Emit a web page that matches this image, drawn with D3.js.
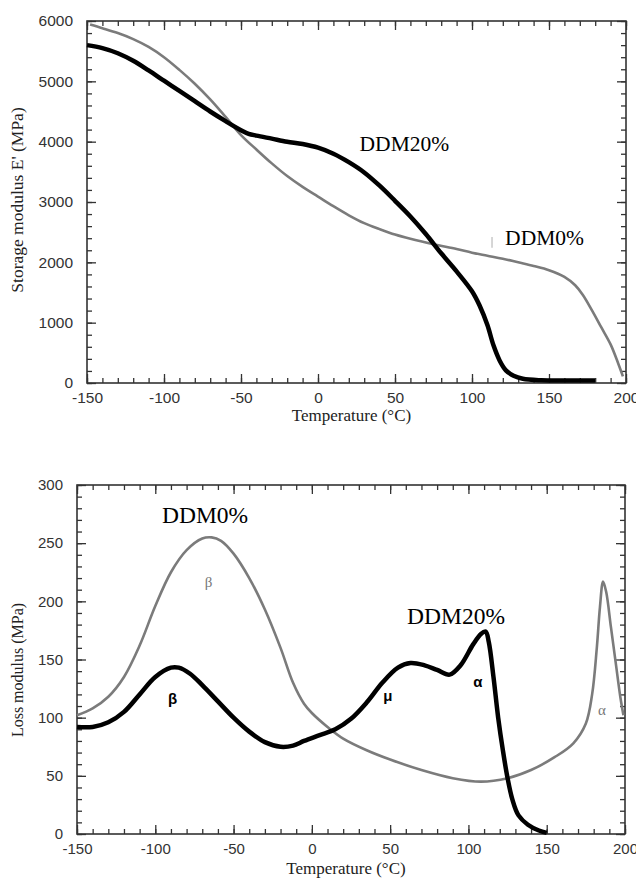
<!doctype html>
<html lang="en">
<head>
  <meta charset="utf-8">
  <title>DMA curves</title>
  <script src="https://d3js.org/d3.v7.min.js"></script>
  <style>
    body { margin: 0; background: #fff; }
    .tick text { font-family: "Liberation Sans", Arial, sans-serif; fill: #333; }
    .tick line { stroke: #333; stroke-width: 1.3; }
  </style>
</head>
<body>
  <div id="chart"></div>
  <script type="text/javascript">

    var width = 636, height = 878;

    // ---- data ----
    // storage modulus, DDM0% (grey)
    var e0Temp = [-148, -140, -130, -120, -110, -100, -90, -80, -70, -60, -50, -40, -30, -20, -10, 0, 10, 20, 30, 40, 50, 60, 75, 90, 100, 110, 120, 130, 140, 150, 160, 167, 172, 178, 184, 190, 195, 198];
    var e0Val  = [5940, 5880, 5800, 5700, 5570, 5400, 5190, 4960, 4700, 4410, 4110, 3870, 3640, 3430, 3250, 3090, 2930, 2780, 2650, 2550, 2460, 2390, 2300, 2220, 2160, 2110, 2060, 2000, 1940, 1870, 1760, 1620, 1460, 1200, 920, 640, 320, 110];
    // storage modulus, DDM20% (black)
    var e20Temp = [-150, -140, -130, -120, -110, -100, -90, -80, -70, -60, -50, -45, -40, -30, -20, -10, 0, 10, 20, 30, 40, 50, 60, 70, 80, 90, 100, 105, 110, 114, 118, 122, 127, 133, 145, 160, 180];
    var e20Val  = [5600, 5550, 5465, 5340, 5180, 5010, 4840, 4670, 4500, 4340, 4190, 4130, 4100, 4050, 4000, 3960, 3900, 3800, 3660, 3490, 3270, 3020, 2760, 2470, 2150, 1850, 1520, 1280, 960, 620, 370, 210, 120, 70, 45, 40, 40];
    // loss modulus, DDM0% (grey)
    var l0Temp = [-150, -140, -130, -120, -110, -100, -90, -80, -70, -64, -58, -50, -40, -30, -20, -12, -5, 0, 10, 20, 35, 50, 70, 90, 108, 125, 140, 155, 167, 175, 179, 182, 184, 186, 188, 191, 194, 197, 199];
    var l0Val  = [102, 108, 118, 135, 162, 196, 225, 244, 254, 255, 252, 241, 220, 193, 160, 130, 112, 104, 92, 82, 72, 64, 55, 48, 45, 48, 55, 66, 78, 95, 120, 160, 195, 217, 208, 178, 148, 118, 102];
    // loss modulus, DDM20% (black)
    var l20Temp = [-150, -140, -130, -120, -110, -100, -90, -85, -78, -70, -60, -50, -40, -30, -20, -12, -5, 5, 15, 25, 35, 45, 55, 63, 72, 80, 88, 95, 103, 108, 111, 113, 116, 119, 122, 125, 128, 132, 138, 145, 150];
    var l20Val  = [92, 92, 96, 105, 120, 135, 143, 143, 138, 128, 114, 100, 88, 79, 75, 76, 80, 85, 90, 99, 113, 130, 143, 147, 145, 141, 137, 145, 163, 172, 174, 165, 135, 100, 72, 48, 30, 16, 8, 3, 1];

    var xTicks = [-150, -100, -50, 0, 50, 100, 150, 200];
    var eTicks = [0, 1000, 2000, 3000, 4000, 5000, 6000];
    var lTicks = [0, 50, 100, 150, 200, 250, 300];

    var svg = d3.select('#chart')
                .append('svg')
                .attr('width', width)
                .attr('height', height);

    function pairs(t, v) {
      return t.map(function(d, i) { return [d, v[i]]; });
    }

    function panel(o) {
      var x = d3.scaleLinear().domain([-150, 200]).range([o.left, o.right]);
      var y = d3.scaleLinear().domain(o.yDomain).range([o.bottom, o.top]);
      var g = svg.append('g');

      var xMinor = d3.range(-150, 201, 10);
      var yMinor = d3.range(o.yDomain[0], o.yDomain[1] + 1, o.yMinorStep);

      // minor ticks on all four sides
      g.append('g').attr('transform', 'translate(0,' + o.bottom + ')')
        .call(d3.axisBottom(x).tickValues(xMinor).tickSize(-5).tickFormat(''));
      g.append('g').attr('transform', 'translate(0,' + o.top + ')')
        .call(d3.axisTop(x).tickValues(xMinor).tickSize(-5).tickFormat(''));
      g.append('g').attr('transform', 'translate(' + o.left + ',0)')
        .call(d3.axisLeft(y).tickValues(yMinor).tickSize(-5).tickFormat(''));
      g.append('g').attr('transform', 'translate(' + o.right + ',0)')
        .call(d3.axisRight(y).tickValues(yMinor).tickSize(-5).tickFormat(''));

      // major ticks + labels
      g.append('g').attr('transform', 'translate(0,' + o.bottom + ')')
        .call(d3.axisBottom(x).tickValues(xTicks).tickSize(-9).tickPadding(9)
              .tickFormat(function(d) { return String(d); }))
        .selectAll('text').style('font-size', o.tickFont + 'px');
      g.append('g').attr('transform', 'translate(0,' + o.top + ')')
        .call(d3.axisTop(x).tickValues(xTicks).tickSize(-9).tickFormat(''));
      g.append('g').attr('transform', 'translate(' + o.left + ',0)')
        .call(d3.axisLeft(y).tickValues(o.yTicks).tickSize(-9).tickPadding(14)
              .tickFormat(function(d) { return String(d); }))
        .selectAll('text').style('font-size', o.tickFont + 'px');
      g.append('g').attr('transform', 'translate(' + o.right + ',0)')
        .call(d3.axisRight(y).tickValues(o.yTicks).tickSize(-9).tickFormat(''));

      g.selectAll('.domain').remove();

      g.append('rect')
        .attr('x', o.left).attr('y', o.top)
        .attr('width', o.right - o.left).attr('height', o.bottom - o.top)
        .attr('fill', 'none').attr('stroke', '#333').attr('stroke-width', 1.6);

      var line = d3.line()
                   .x(function(d) { return x(d[0]); })
                   .y(function(d) { return y(d[1]); })
                   .curve(d3.curveCatmullRom.alpha(0.5));

      g.append('path').datum(o.grey)
        .attr('d', line).attr('fill', 'none')
        .attr('stroke', '#7b7b7b').attr('stroke-width', 2.6);
      g.append('path').datum(o.black)
        .attr('d', line).attr('fill', 'none')
        .attr('stroke', '#000').attr('stroke-width', 4.5)
        .attr('stroke-linejoin', 'round');

      // axis titles
      g.append('text')
        .attr('x', (o.left + o.right) / 2 - 5).attr('y', o.xTitleY)
        .attr('text-anchor', 'middle')
        .style('font-family', '"Liberation Serif", "Times New Roman", serif')
        .style('font-size', '17px').attr('fill', '#222')
        .text('Temperature (\u00b0C)');
      g.append('text')
        .attr('transform', 'translate(' + o.yTitleX + ',' + o.yTitleY + ') rotate(-90)')
        .attr('text-anchor', 'middle')
        .style('font-family', '"Liberation Serif", "Times New Roman", serif')
        .style('font-size', o.yTitleFont + 'px').attr('fill', '#222')
        .text(o.yTitle);

      return { x: x, y: y, g: g };
    }

    var serif = '"Liberation Serif", "Times New Roman", serif';

    // ---- top: storage modulus ----
    var p1 = panel({
      left: 87, right: 626, top: 21, bottom: 383,
      yDomain: [0, 6000], yMinorStep: 200, yTicks: eTicks, tickFont: 15.5,
      grey: pairs(e0Temp, e0Val), black: pairs(e20Temp, e20Val),
      xTitleY: 421, yTitleX: 23, yTitleY: 200, yTitleFont: 17.5,
      yTitle: "Storage modulus E' (MPa)"
    });

    p1.g.append('text').attr('x', p1.x(27)).attr('y', p1.y(3845))
      .style('font-family', serif).style('font-size', '21.5px')
      .text('DDM20%');
    p1.g.append('text').attr('x', p1.x(121.5)).attr('y', p1.y(2287))
      .style('font-family', serif).style('font-size', '21.5px')
      .text('DDM0%');
    p1.g.append('line')
      .attr('x1', p1.x(113)).attr('x2', p1.x(113))
      .attr('y1', p1.y(2420)).attr('y2', p1.y(2240))
      .attr('stroke', '#bbb').attr('stroke-width', 1.2);

    // ---- bottom: loss modulus ----
    var p2 = panel({
      left: 77, right: 625, top: 485, bottom: 834,
      yDomain: [0, 300], yMinorStep: 10, yTicks: lTicks, tickFont: 15,
      grey: pairs(l0Temp, l0Val), black: pairs(l20Temp, l20Val),
      xTitleY: 874, yTitleX: 23, yTitleY: 670, yTitleFont: 16,
      yTitle: 'Loss modulus (MPa)'
    });

    p2.g.append('text').attr('x', p2.x(-95.7)).attr('y', p2.y(267))
      .style('font-family', serif).style('font-size', '23.5px')
      .text('DDM0%');
    p2.g.append('text').attr('x', p2.x(60.8)).attr('y', p2.y(180.5))
      .style('font-family', serif).style('font-size', '23.5px')
      .text('DDM20%');

    // relaxation labels
    var greek = [
      { t: -66, v: 215, s: '\u03b2', bold: false },
      { t: -89, v: 115, s: '\u03b2', bold: true },
      { t: 48.6, v: 118, s: '\u03bc', bold: true },
      { t: 106, v: 130, s: '\u03b1', bold: true },
      { t: 185.3, v: 105, s: '\u03b1', bold: false }
    ];
    p2.g.selectAll('.greek').data(greek).enter()
      .append('text')
      .attr('class', 'greek')
      .attr('x', function(d) { return p2.x(d.t); })
      .attr('y', function(d) { return p2.y(d.v); })
      .attr('text-anchor', 'middle')
      .attr('dominant-baseline', 'middle')
      .style('font-family', function(d) { return d.bold ? '"Liberation Sans", Arial, sans-serif' : serif; })
      .style('font-weight', function(d) { return d.bold ? 'bold' : 'normal'; })
      .style('font-size', '15px')
      .attr('fill', function(d) { return d.bold ? '#000' : '#777'; })
      .text(function(d) { return d.s; });

  </script>
</body>
</html>
